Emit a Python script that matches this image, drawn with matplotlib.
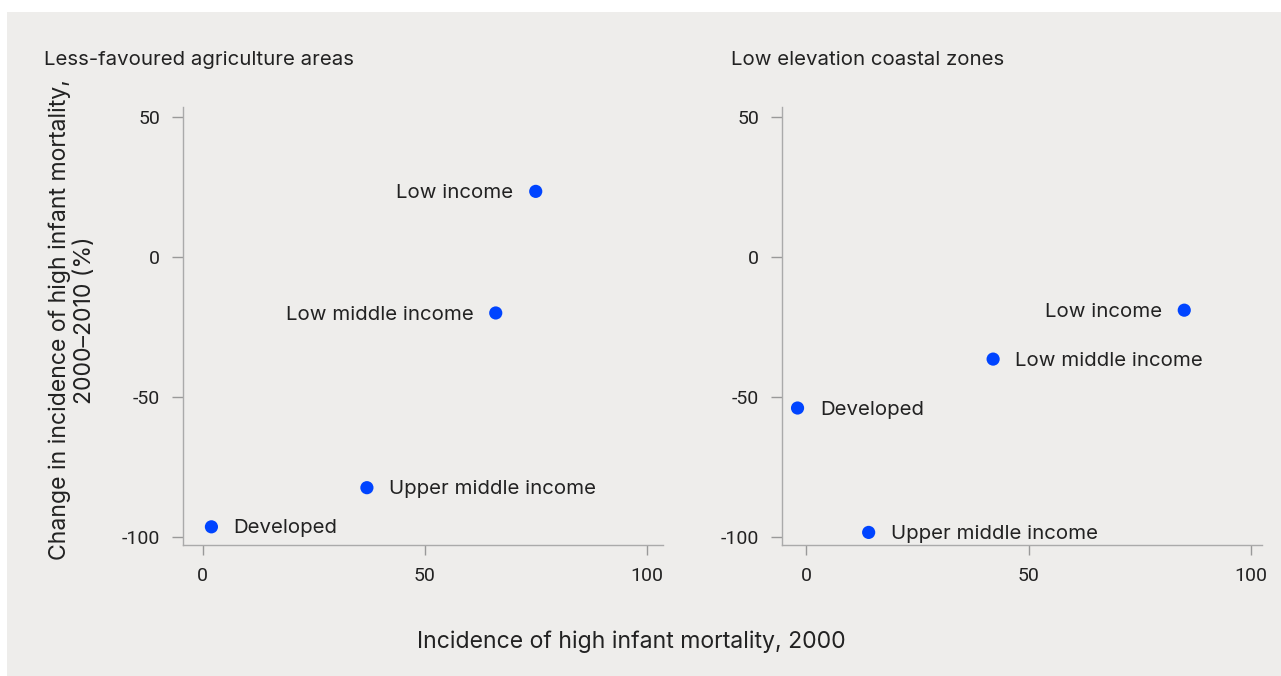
import matplotlib
matplotlib.use("Agg")
import matplotlib.pyplot as plt
from matplotlib.patches import Rectangle

# data
groups_left = ["Low income", "Low middle income", "Upper middle income", "Developed"]
x_left = [75, 66, 37, 2]
y_left = [23.5, -20, -82.5, -96.5]
side_left = ["left", "left", "right", "right"]

groups_right = ["Low income", "Low middle income", "Developed", "Upper middle income"]
x_right = [85, 42, -2, 14]
y_right = [-19, -36.5, -54, -98.5]
side_right = ["left", "right", "right", "right"]

titles = ["Less-favoured agriculture areas", "Low elevation coastal zones"]
xticks = [0, 50, 100]
yticks = [-100, -50, 0, 50]

plt.rcParams["axes.unicode_minus"] = False
label_font = ["Inter", "DejaVu Sans"]
tick_font = ["Roboto", "DejaVu Sans"]

bg = "#eeedeb"
blue = "#0044ff"
text_col = "#222222"

fig = plt.figure(figsize=(12.81, 6.76), dpi=100, facecolor="white")
fig.patches.append(Rectangle((7 / 1281, 0), 1 - 7 / 1281, 1 - 12 / 676,
                             transform=fig.transFigure, facecolor=bg,
                             edgecolor="none", zorder=-10))

ax1 = fig.add_axes([0.1425, 0.1938, 0.3749, 0.6484])
ax2 = fig.add_axes([0.6101, 0.1938, 0.3751, 0.6484])

panels = [(ax1, groups_left, x_left, y_left, side_left, (-4.5, 103.6)),
          (ax2, groups_right, x_right, y_right, side_right, (-5.6, 102.5))]

for ax, groups, xs, ys, sides, xlim in panels:
    ax.set_facecolor("none")
    ax.scatter(xs, ys, s=90, color=blue, zorder=3, edgecolor="none")
    for g, x, y, s in zip(groups, xs, ys, sides):
        off = -16 if s == "left" else 16
        ax.annotate(g, (x, y), xytext=(off, -1.2), textcoords="offset points",
                    ha="right" if s == "left" else "left", va="center",
                    fontsize=14.7, color=text_col, family=label_font)
    ax.set_xlim(*xlim)
    ax.set_ylim(-103, 53.8)
    ax.set_xticks(xticks)
    ax.set_yticks(yticks)
    for sp in ["top", "right"]:
        ax.spines[sp].set_visible(False)
    for sp in ["left", "bottom"]:
        ax.spines[sp].set_color("#aaaaaa")
        ax.spines[sp].set_linewidth(1.0)
    ax.tick_params(axis="y", length=8, width=1, color="#999999", pad=8,
                   labelsize=14, labelcolor=text_col)
    ax.tick_params(axis="x", length=7, width=1, color="#999999", pad=9,
                   labelsize=14, labelcolor=text_col)
    for lab in ax.get_xticklabels() + ax.get_yticklabels():
        lab.set_family(tick_font)

fig.text(44 / 1281, 1 - 60 / 676, titles[0], ha="left", va="center",
         fontsize=14.7, color=text_col, family=label_font)
fig.text(731 / 1281, 1 - 60 / 676, titles[1], ha="left", va="center",
         fontsize=14.7, color=text_col, family=label_font)

fig.text(72 / 1281, 1 - 320 / 676,
         "Change in incidence of high infant mortality,\n2000\u20132010 (%)",
         rotation=90, ha="center", va="center", multialignment="center",
         fontsize=16.6, color=text_col, family=label_font, linespacing=1.2)
fig.text(631 / 1281, 1 - 642 / 676, "Incidence of high infant mortality, 2000",
         ha="center", va="center", fontsize=16.6, color=text_col, family=label_font)

fig.savefig("out.png", dpi=100, facecolor="white")
